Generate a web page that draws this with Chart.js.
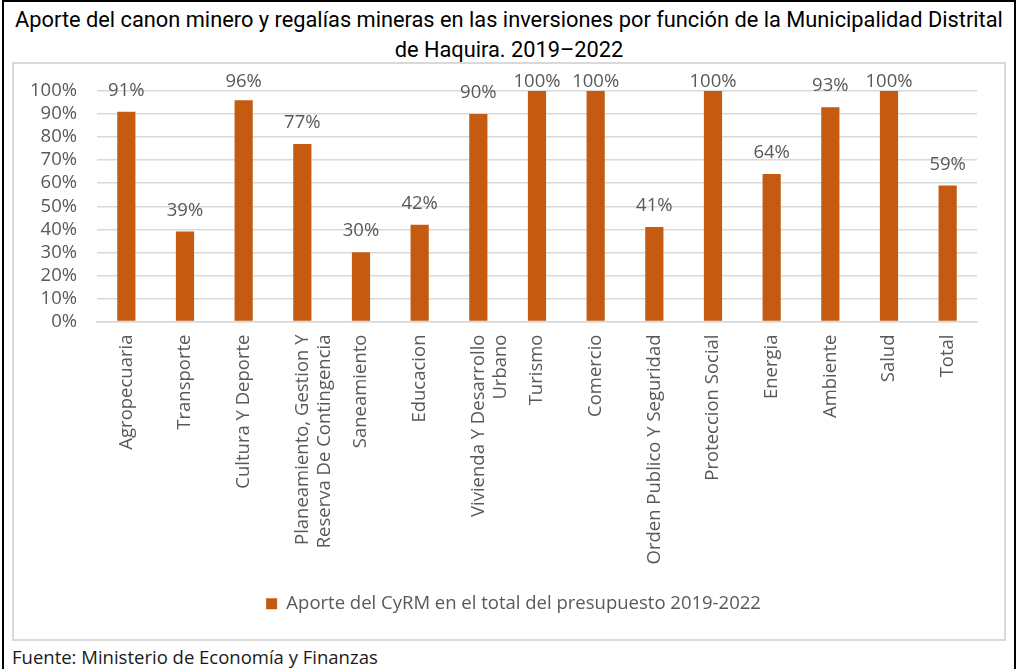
<!DOCTYPE html>
<html>
<head>
<meta charset="utf-8">
<script src="https://cdn.jsdelivr.net/npm/chart.js@4.4.0/dist/chart.umd.min.js"></script>
<style>
  body { margin: 0; background: #fff; width: 1018px; height: 669px; overflow: hidden; position: relative; }
  #frame { position: absolute; left: 2px; top: 0; width: 1014px; height: 669px; box-sizing: border-box;
           border-left: 2px solid #000; border-right: 2px solid #000; border-top: 2px solid #000; }
  #title { position: absolute; left: 0; top: 5px; width: 1018px; text-align: center;
           font-family: Roboto, sans-serif; font-size: 21.8px; line-height: 30px; color: #000; }
  #box { position: absolute; left: 12px; top: 62px; width: 994px; height: 579px; box-sizing: border-box;
         border: 2px solid #d9d9d9; }
  #fuente { position: absolute; left: 12px; top: 644px; font-family: "Open Sans", sans-serif;
            font-size: 18.5px; color: #1a1a1a; }
</style>
</head>
<body>
<div id="frame"></div>
<div id="title">Aporte del canon minero y regalías mineras en las inversiones por función de la Municipalidad Distrital<br>de Haquira. 2019–2022</div>
<div id="box"><canvas id="aporteChart" width="990" height="575"></canvas></div>
<div id="fuente">Fuente: Ministerio de Economía y Finanzas</div>
<script>
var categorias = ["Agropecuaria", "Transporte", "Cultura Y Deporte", ["Planeamiento, Gestion Y", "Reserva De Contingencia"],
     "Saneamiento", "Educacion", ["Vivienda Y Desarrollo", "Urbano"], "Turismo", "Comercio",
     "Orden Publico Y Seguridad", "Proteccion Social", "Energia", "Ambiente", "Salud", "Total"];
var aporte = [91, 39, 96, 77, 30, 42, 90, 100, 100, 41, 100, 64, 93, 100, 59];
var serieNombre = "Aporte del CyRM en el total del presupuesto 2019-2022";

var gris = '#595959';
var fuente = { family: 'Open Sans', size: 18.5 };

// etiquetas de valor encima de cada barra
var etiquetas = {
     id: 'etiquetas',
     afterLayout: function(chart) {
          // leyenda centrada en todo el lienzo, no solo en el area con padding
          chart.legend.left += 18;
          chart.legend.right += 18;
     },
     afterDatasetsDraw: function(chart) {
          var ctx = chart.ctx;
          var meta = chart.getDatasetMeta(0);
          ctx.save();
          ctx.font = '18.5px "Open Sans"';
          ctx.fillStyle = gris;
          ctx.textAlign = 'center';
          ctx.textBaseline = 'bottom';
          meta.data.forEach(function(bar, i) {
               var y = Math.max(bar.y - 12, chart.chartArea.top);
               ctx.fillText(aporte[i] + '%', bar.x, y);
          });
          ctx.restore();
     }
};

new Chart('aporteChart', {
     type: 'bar',
     data: {
          labels: categorias,
          datasets: [{
               label: serieNombre,
               data: aporte,
               backgroundColor: '#C55A11',
               borderWidth: 0,
               categoryPercentage: 1,
               barPercentage: 0.31
          }]
     },
     options: {
          responsive: false,
          animation: false,
          layout: { padding: { top: 27, right: 27, bottom: 16, left: 0 } },
          plugins: {
               legend: {
                    display: true,
                    position: 'bottom',
                    labels: { color: gris, font: fuente, boxWidth: 11, boxHeight: 11, padding: 10 }
               },
               tooltip: { enabled: false }
          },
          scales: {
               y: {
                    min: 0,
                    max: 100,
                    afterFit: function(scale) {
                         scale.width = 83;
                         scale.paddingTop = 0;
                         scale.paddingBottom = 0;
                    },
                    ticks: {
                         stepSize: 10,
                         autoSkip: false,
                         color: gris,
                         font: fuente,
                         padding: 20,
                         callback: function(v) { return v + '%'; }
                    },
                    grid: { color: '#d9d9d9', lineWidth: 1.5, drawTicks: false },
                    border: { display: false }
               },
               x: {
                    afterFit: function(scale) { scale.height = 263; },
                    ticks: {
                         color: gris,
                         font: fuente,
                         minRotation: 90,
                         maxRotation: 90,
                         autoSkip: false,
                         padding: 13
                    },
                    grid: { display: false, drawTicks: false },
                    border: { color: '#d9d9d9', width: 1.5 }
               }
          }
     },
     plugins: [etiquetas]
});
</script>
</body>
</html>
